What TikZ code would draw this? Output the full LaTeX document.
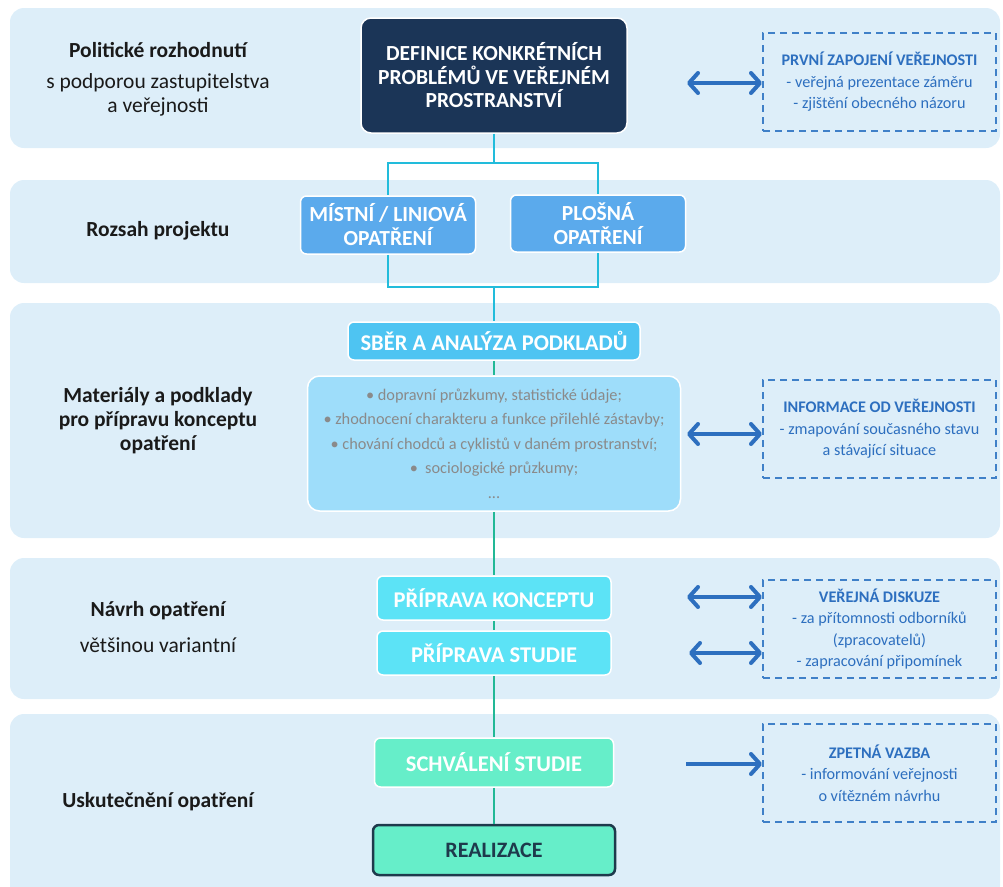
\documentclass[tikz,border=0pt]{standalone}
\usepackage{fontspec}
\setmainfont{Carlito}
\usetikzlibrary{arrows.meta,positioning}

\definecolor{bandbg}{HTML}{DDEEF9}
\definecolor{navy}{HTML}{1B3557}
\definecolor{midblue}{HTML}{5BAAEC}
\definecolor{skyblue}{HTML}{4EC4F2}
\definecolor{paleblue}{HTML}{9EDDFA}
\definecolor{aqua}{HTML}{5CE3F6}
\definecolor{mint}{HTML}{66EEC9}
\definecolor{darkedge}{HTML}{1E3A4C}
\definecolor{linkcyan}{HTML}{22BCDB}
\definecolor{linkteal}{HTML}{22B896}
\definecolor{pubblue}{HTML}{2D6FBF}
\definecolor{dashblue}{HTML}{3F80C8}
\definecolor{bullgray}{HTML}{8A8A8A}
\definecolor{labelblack}{HTML}{1A1A1A}

\begin{document}
\begin{tikzpicture}[x=1pt,y=-1pt,
  band/.style={fill=bandbg, draw=none, rounded corners=14pt},
  stage/.style={rounded corners=6pt, draw=white, line width=1.5pt, text=white,
    font=\bfseries\fontsize{22.5}{25}\selectfont, align=center, inner sep=0pt},
  heading/.style={text=labelblack, font=\bfseries\fontsize{21.5}{24}\selectfont, align=center},
  subheading/.style={text=labelblack, font=\fontsize{21.5}{24}\selectfont, align=center},
  pubbox/.style={draw=dashblue, dash pattern=on 7pt off 5pt, line width=2pt,
    minimum width=233pt, minimum height=98pt, inner sep=0pt, text=pubblue,
    font=\fontsize{16.2}{21.5}\selectfont, align=center},
  flowcyan/.style={draw=linkcyan, line width=2.5pt},
  flowteal/.style={draw=linkteal, line width=2.5pt},
  exchange/.style={draw=pubblue, line width=4pt,
    {Straight Barb[length=9pt,width=20pt,round]}-{Straight Barb[length=9pt,width=20pt,round]}},
  notify/.style={draw=pubblue, line width=4pt, -{Straight Barb[length=9pt,width=20pt,round]}}
]
\useasboundingbox (0,0) rectangle (1003,886);

% background bands
\fill[band] (10,8) rectangle (1000,148);
\fill[band] (10,180) rectangle (1000,283);
\fill[band] (10,303) rectangle (1000,538);
\fill[band] (10,558) rectangle (1000,699);
\fill[band] (10,714) rectangle (1000,900);

% left-hand phase labels
\node[heading] (l1) at (158,50) {Politické rozhodnutí};
\node[subheading] (l1s) at (158,95) {s podporou zastupitelstva\\a veřejnosti};
\node[heading] (l2) at (158,231) {Rozsah projektu};
\node[heading] (l3) at (158,421) {Materiály a podklady\\pro přípravu konceptu\\opatření};
\node[heading] (l4) at (158,611) {Návrh opatření};
\node[subheading] (l4s) at (158,645) {většinou variantní};
\node[heading] (l5) at (158,802) {Uskutečnění opatření};

% central process
\node[stage, fill=navy, rounded corners=10pt, minimum width=266pt, minimum height=115pt,
  font=\bfseries\fontsize{21.5}{23.5}\selectfont] (def) at (494,75.5)
  {DEFINICE KONKRÉTNÍCH\\PROBLÉMŮ VE VEŘEJNÉM\\PROSTRANSTVÍ};
\node[stage, fill=midblue, minimum width=175pt, minimum height=58pt,
  font=\bfseries\fontsize{21.5}{24}\selectfont] (mistni) at (388,225)
  {MÍSTNÍ / LINIOVÁ\\OPATŘENÍ};
\node[stage, fill=midblue, minimum width=175pt, minimum height=57pt,
  font=\bfseries\fontsize{21.5}{24}\selectfont] (plosna) at (598,223.5)
  {PLOŠNÁ\\OPATŘENÍ};
\node[stage, fill=skyblue, minimum width=292pt, minimum height=38pt] (sber) at (494,341)
  {SBĚR A ANALÝZA PODKLADŮ};
\node[stage, fill=paleblue, rounded corners=12pt, minimum width=373pt, minimum height=135pt,
  text=bullgray, font=\fontsize{16.3}{24.5}\selectfont] (podklady) at (494,443.5)
  {• dopravní průzkumy, statistické údaje;\\
   • zhodnocení charakteru a funkce přilehlé zástavby;\\
   • chování chodců a cyklistů v daném prostranství;\\
   •\ \ sociologické průzkumy;\\
   ...};
\node[stage, fill=aqua, minimum width=234pt, minimum height=44pt] (koncept) at (494,598)
  {PŘÍPRAVA KONCEPTU};
\node[stage, fill=aqua, minimum width=234pt, minimum height=44pt] (studie) at (494,653)
  {PŘÍPRAVA STUDIE};
\node[stage, fill=mint, minimum width=239pt, minimum height=49pt] (schval) at (494,762.5)
  {SCHVÁLENÍ STUDIE};
\node[stage, fill=mint, draw=darkedge, line width=2.5pt, minimum width=242pt, minimum height=50pt,
  text=darkedge, font=\bfseries\fontsize{22}{24}\selectfont] (real) at (494,850)
  {REALIZACE};

% connectors between stages
\coordinate (split) at (494,163);
\coordinate (merge) at (494,287);
\draw[flowcyan] (def.south) -- (split) -| (mistni.north);
\draw[flowcyan] (split) -| (plosna.north);
\draw[flowcyan] (mistni.south) |- (merge) -| (plosna.south);
\draw[flowcyan] (merge) -- (sber.north);
\draw[flowteal] (sber.south) -- (podklady.north);
\draw[flowteal] (podklady.south) -- (koncept.north);
\draw[flowteal] (koncept.south) -- (studie.north);
\draw[flowteal] (studie.south) -- (schval.north);
\draw[flowteal] (schval.south) -- (real.north);

% public participation boxes
\node[pubbox] (pub1) at (879.5,82)
  {\textbf{PRVNÍ ZAPOJENÍ VEŘEJNOSTI}\\- veřejná prezentace záměru\\- zjištění obecného názoru};
\node[pubbox] (pub2) at (879.5,429)
  {\textbf{INFORMACE OD VEŘEJNOSTI}\\- zmapování současného stavu\\a stávající situace};
\node[pubbox] (pub3) at (879.5,629)
  {\textbf{VEŘEJNÁ DISKUZE}\\- za přítomnosti odborníků\\(zpracovatelů)\\- zapracování připomínek};
\node[pubbox] (pub4) at (879.5,773)
  {\textbf{ZPETNÁ VAZBA}\\- informování veřejnosti\\o vítězném návrhu};

% exchange arrows
\coordinate (a1) at (687,83);
\coordinate (a2) at (687,434);
\coordinate (a3) at (687,597);
\coordinate (a4) at (689,653);
\coordinate (a5) at (686,764);
\draw[exchange] (a1) -- (a1 -| pub1.west);
\draw[exchange] (a2) -- (a2 -| pub2.west);
\draw[exchange] (a3) -- (a3 -| pub3.west);
\draw[exchange] (a4) -- (a4 -| pub3.west);
\draw[notify] (a5) -- (a5 -| pub4.west);
\end{tikzpicture}
\end{document}
